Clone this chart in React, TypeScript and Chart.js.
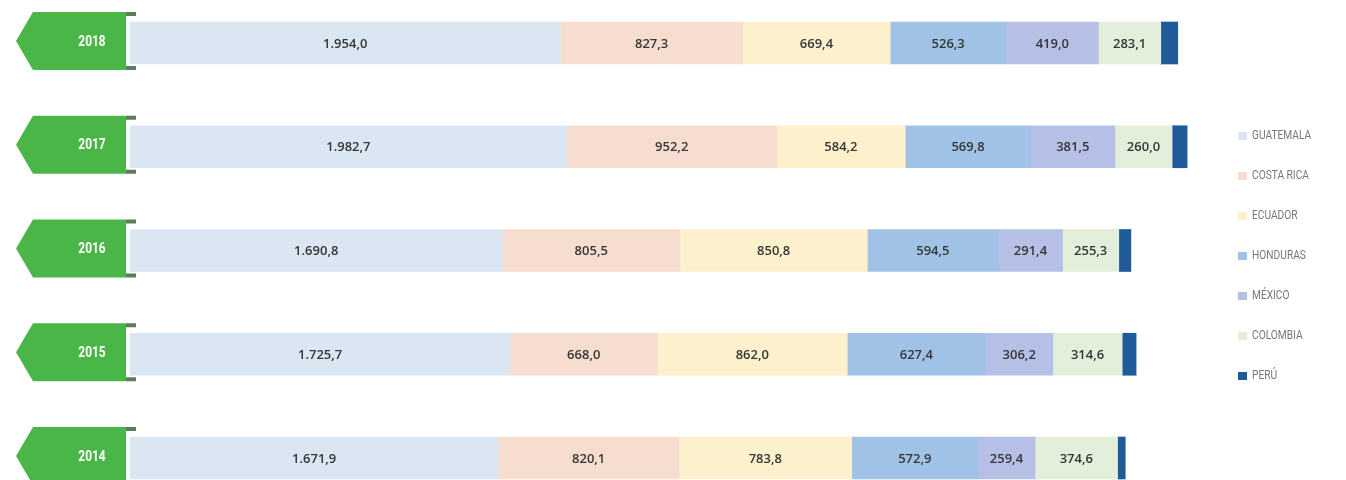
import React, { useEffect, useRef } from "react";
import { Chart, registerables } from "chart.js";

Chart.register(...registerables);

const years = ["2018", "2017", "2016", "2015", "2014"];
const countries = ["GUATEMALA", "COSTA RICA", "ECUADOR", "HONDURAS", "MÉXICO", "COLOMBIA", "PERÚ"];
const guatemala = [1954.0, 1982.7, 1690.8, 1725.7, 1671.9];
const costaRica = [827.3, 952.2, 805.5, 668.0, 820.1];
const ecuador = [669.4, 584.2, 850.8, 862.0, 783.8];
const honduras = [526.3, 569.8, 594.5, 627.4, 572.9];
const mexico = [419.0, 381.5, 291.4, 306.2, 259.4];
const colombia = [283.1, 260.0, 255.3, 314.6, 374.6];
const peru = [77, 68, 55, 63, 35];
const colors = ["#dbe6f3", "#f7ddd0", "#fdf0cd", "#a0c2e6", "#b6bfe6", "#e3efda", "#1f5b98"];
const showLabel = [true, true, true, true, true, true, false];

function fmt(v: number): string {
  const fixed = v.toFixed(1);
  const [intPart, dec] = fixed.split(".");
  const grouped = intPart.replace(/\B(?=(\d{3})+(?!\d))/g, ".");
  return grouped + "," + dec;
}

const tagPlugin = {
  id: "yearTags",
  afterDraw(chart: any) {
    const ctx = chart.ctx;
    const yScale = chart.scales.y;
    ctx.save();
    years.forEach((yr, i) => {
      const cy = yScale.getPixelForValue(i) - 2;
      const top = cy - 29;
      const bot = cy + 29;
      ctx.fillStyle = "#4bb648";
      ctx.beginPath();
      ctx.moveTo(16, cy);
      ctx.lineTo(33, top);
      ctx.lineTo(126, top);
      ctx.lineTo(126, bot);
      ctx.lineTo(33, bot);
      ctx.closePath();
      ctx.fill();
      ctx.fillStyle = "#5f7a5f";
      ctx.fillRect(126, top, 10, 4);
      ctx.fillRect(126, bot - 4, 10, 4);
      ctx.save();
      ctx.translate(92, cy + 1);
      ctx.scale(0.85, 1);
      ctx.fillStyle = "#ffffff";
      ctx.font = "bold 14px 'Roboto', sans-serif";
      ctx.textAlign = "center";
      ctx.textBaseline = "middle";
      ctx.fillText(yr, 0, 0);
      ctx.restore();
    });
    ctx.restore();
  },
};

const labelPlugin = {
  id: "segLabels",
  afterDatasetsDraw(chart: any) {
    const ctx = chart.ctx;
    ctx.save();
    ctx.font = "600 13px 'Open Sans', sans-serif";
    ctx.fillStyle = "#363636";
    ctx.textAlign = "center";
    ctx.textBaseline = "middle";
    chart.data.datasets.forEach((ds: any, di: number) => {
      if (!showLabel[di]) return;
      const meta = chart.getDatasetMeta(di);
      meta.data.forEach((el: any, i: number) => {
        const cx = (el.x + el.base) / 2;
        ctx.fillText(fmt(ds.data[i]), cx, el.y + 1);
      });
    });
    ctx.restore();
  },
};

const legendPlugin = {
  id: "customLegend",
  afterDraw(chart: any) {
    const ctx = chart.ctx;
    ctx.save();
    chart.data.datasets.forEach((ds: any, i: number) => {
      const y = 136 + i * 40;
      ctx.fillStyle = ds.backgroundColor;
      ctx.fillRect(1238, y - 4, 9, 8);
      ctx.save();
      ctx.translate(1252, y);
      ctx.scale(0.85, 1);
      ctx.font = "12px 'Roboto', sans-serif";
      ctx.textAlign = "left";
      ctx.textBaseline = "middle";
      ctx.fillStyle = "#777777";
      ctx.fillText(ds.label, 0, 0);
      ctx.restore();
    });
    ctx.restore();
  },
};

export default function App() {
  const ref = useRef<HTMLCanvasElement | null>(null);
  useEffect(() => {
    if (!ref.current) return;
    const series = [guatemala, costaRica, ecuador, honduras, mexico, colombia, peru];
    const chart = new Chart(ref.current, {
      type: "bar",
      data: {
        labels: years,
        datasets: series.map((d, i) => ({
          label: countries[i],
          data: d,
          backgroundColor: colors[i],
          borderWidth: 0,
          barThickness: 42,
          clip: false as any,
        })),
      },
      options: {
        indexAxis: "y",
        animation: false,
        responsive: true,
        maintainAspectRatio: false,
        layout: { padding: { left: 130, right: 146, top: 43, bottom: 22 } },
        plugins: { legend: { display: false }, tooltip: { enabled: false } },
        scales: {
          x: { stacked: true, display: false, min: 0, max: 4857 },
          y: { stacked: true, display: false, offset: false },
        },
      },
      plugins: [labelPlugin, tagPlugin, legendPlugin],
    });
    return () => chart.destroy();
  }, []);
  return (
    <div style={{ position: "fixed", left: 0, top: 0, width: 1346, height: 480, background: "#fff" }}>
      <canvas ref={ref} />
    </div>
  );
}
